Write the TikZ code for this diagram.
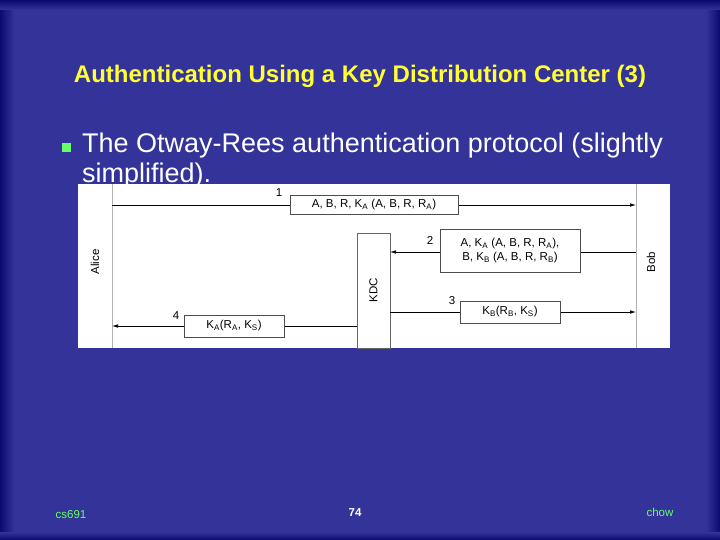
\documentclass[tikz,border=0pt]{standalone}
\usepackage{fontspec}
\setmainfont{Liberation Sans}
\usetikzlibrary{arrows.meta}
\definecolor{bg}{HTML}{333399}
\definecolor{dk}{HTML}{0A0A70}
\definecolor{ttl}{HTML}{FFFF33}
\definecolor{grn}{HTML}{66FF66}
\definecolor{bar}{HTML}{B0B0B0}
\tikzset{
 msg/.style={draw=black!70,fill=white,line width=0.6pt,inner sep=1pt,font=\fontsize{11.5}{13.5}\selectfont,align=center},
 num/.style={font=\fontsize{11.5}{13}\selectfont,inner sep=0pt},
 conn/.style={line width=0.6pt,-{Latex[length=6pt,width=3.5pt]}},
 actor/.style={rotate=90,font=\fontsize{11.5}{13}\selectfont,inner sep=0pt},
}
\begin{document}
\begin{tikzpicture}[x=1pt,y=-1pt]
\useasboundingbox (0,0) rectangle (720,540);
\fill[dk] (0,0) rectangle (720,540);
\shade[left color=dk,right color=bg] (0,0) rectangle (14,540);
\shade[left color=bg,right color=dk] (706,0) rectangle (720,540);
\shade[top color=dk,bottom color=bg] (0,0) rectangle (720,10);
\shade[top color=bg,bottom color=dk] (0,532) rectangle (720,540);
\fill[bg] (14,10) rectangle (706,532);
\node[text=ttl,font=\bfseries\fontsize{24}{28}\selectfont] (title) at (360,76) {Authentication Using a Key Distribution Center (3)};
\fill[grn] (62,143) rectangle (71,152);
\node[text=white,anchor=north west,align=left,font=\fontsize{27}{30}\selectfont,inner sep=0pt] (txt) at (82,133) {The Otway-Rees authentication protocol (slightly\\simplified).};
% diagram
\fill[white] (78,184) rectangle (670,348);
\draw[bar,line width=0.8pt] (112,184) -- (112,348);
\draw[bar,line width=0.8pt] (636,184) -- (636,348);
\node[draw=black!60,fill=white,minimum width=33pt,minimum height=115pt,inner sep=0pt] (kdc) at (373.5,290.5) {};
\node[actor] (alice) at (95,262) {Alice};
\node[actor] (bob) at (651,262) {Bob};
\node[actor] at (kdc) {KDC};
\coordinate (a1) at (112,205); \coordinate (b1) at (636,205);
\coordinate (b2) at (636,252); \coordinate (k2) at (390,252);
\coordinate (k3) at (390,312); \coordinate (b3) at (636,312);
\coordinate (k4) at (357,326); \coordinate (a4) at (112,326);
\draw[conn] (a1) -- (b1);
\draw[conn] (b2) -- (k2);
\draw[conn] (k3) -- (b3);
\draw[conn] (k4) -- (a4);
\node[msg,minimum width=168pt,minimum height=19pt] (m1) at (374,204.5) {A, B, R, K$_\mathrm{A}$ (A, B, R, R$_\mathrm{A}$)};
\node[msg,minimum width=140pt,minimum height=43pt] (m2) at (510,250.5) {A, K$_\mathrm{A}$ (A, B, R, R$_\mathrm{A}$),\\B, K$_\mathrm{B}$ (A, B, R, R$_\mathrm{B}$)};
\node[msg,minimum width=100pt,minimum height=22pt] (m3) at (510,312) {K$_\mathrm{B}$(R$_\mathrm{B}$, K$_\mathrm{S}$)};
\node[msg,minimum width=100pt,minimum height=22pt] (m4) at (234,326) {K$_\mathrm{A}$(R$_\mathrm{A}$, K$_\mathrm{S}$)};
\node[num] at (279,193) {1};
\node[num] at (430,240) {2};
\node[num] at (452,301) {3};
\node[num] at (176,316) {4};
% footer
\node[text=grn,font=\fontsize{11.5}{13}\selectfont] (f1) at (71,515) {cs691};
\node[text=white,font=\bfseries\fontsize{11.5}{13}\selectfont] (f2) at (355,513) {74};
\node[text=grn,font=\fontsize{11.5}{13}\selectfont] (f3) at (660,512) {chow};
\end{tikzpicture}
\end{document}
